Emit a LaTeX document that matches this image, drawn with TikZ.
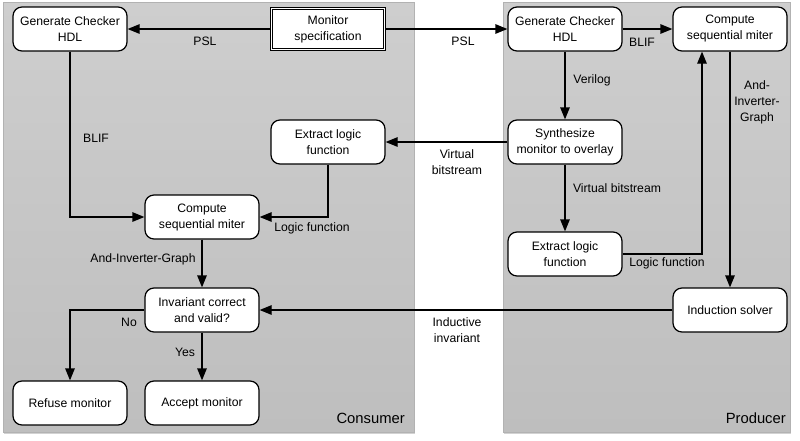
\documentclass[tikz,border=0pt]{standalone}
\usepackage{fontspec}
\setmainfont{Liberation Sans}
\usetikzlibrary{arrows.meta,shadows}
\definecolor{paneltop}{RGB}{206,206,206}
\definecolor{panelbot}{RGB}{190,190,190}
\begin{document}
\begin{tikzpicture}[x=1pt,y=-1pt,
  panel/.style={top color=paneltop, bottom color=panelbot, draw=gray!60, line width=0.3pt,
    drop shadow={shadow xshift=0.5pt, shadow yshift=-2pt, opacity=0.35}},
  box/.style={draw, line width=1.25pt, rounded corners=9pt, fill=white, minimum width=114pt,
    minimum height=44pt, align=center, inner sep=2pt, font=\fontsize{12.2}{16}\selectfont},
  specbox/.style={draw, double, double distance=1.6pt, line width=0.7pt, fill=white, minimum width=113pt,
    minimum height=41pt, align=center, inner sep=2pt, font=\fontsize{12.2}{16}\selectfont},
  lbl/.style={align=center, inner sep=1pt, font=\fontsize{12.2}{16}\selectfont},
  plbl/.style={inner sep=1pt, font=\fontsize{14.8}{17}\selectfont},
  arr/.style={line width=1.25pt, -{Triangle[length=12pt,width=9.5pt]}}]
\useasboundingbox (0,0) rectangle (800,440);
\fill[white] (0,0) rectangle (800,440);
% panels
\path[panel] (3,2) rectangle (414,432);
\path[panel] (503,2) rectangle (790,432);
\node[plbl, anchor=east] (consumer) at (406,418) {Consumer};
\node[plbl, anchor=east] (producer) at (787,418) {Producer};
% nodes
\node[box] (genL) at (70,29) {Generate Checker\\HDL};
\node[specbox] (spec) at (328,29) {Monitor\\specification};
\node[box] (genR) at (565,29) {Generate Checker\\HDL};
\node[box] (cmR) at (730,29) {Compute\\sequential miter};
\node[box] (exL) at (328,142) {Extract logic\\function};
\node[box] (syn) at (565,142) {Synthesize\\monitor to overlay};
\node[box] (cmL) at (202,217) {Compute\\sequential miter};
\node[box] (exR) at (565,254) {Extract logic\\function};
\node[box] (inv) at (202,310) {Invariant correct\\and valid?};
\node[box] (ind) at (730,310) {Induction solver};
\node[box] (ref) at (70,403) {Refuse monitor};
\node[box] (acc) at (202,403) {Accept monitor};
% edges
\draw[arr] (spec) -- (genL);
\draw[arr] (spec) -- (genR);
\draw[arr] (genL) |- (cmL);
\draw[arr] (exL) |- (cmL);
\draw[arr] (cmL) -- (inv);
\draw[arr] (inv) -| (ref);
\draw[arr] (inv) -- (acc);
\draw[arr] (ind) -- (inv);
\draw[arr] (genR) -- (cmR);
\draw[arr] (genR) -- (syn);
\draw[arr] (syn) -- (exL);
\draw[arr] (syn) -- (exR);
\draw[arr] (exR.east) -| ([xshift=-28pt]cmR.south);
\draw[arr] (cmR.south) -- (ind);
% labels
\node[lbl] (l1) at (205,41) {PSL};
\node[lbl] (l2) at (463,41) {PSL};
\node[lbl] (l3) at (96,138) {BLIF};
\node[lbl] (l4) at (312,228) {Logic function};
\node[lbl] (l5) at (143,259) {And-Inverter-Graph};
\node[lbl] (l6) at (129,322) {No};
\node[lbl] (l7) at (185,352) {Yes};
\node[lbl] (l8) at (457,330) {Inductive\\invariant};
\node[lbl] (l9) at (457,162) {Virtual\\bitstream};
\node[lbl] (l10) at (617,188) {Virtual bitstream};
\node[lbl] (l11) at (667,263) {Logic function};
\node[lbl] (l12) at (642,42) {BLIF};
\node[lbl] (l13) at (592,80) {Verilog};
\node[lbl] (l14) at (757,102) {And-\\Inverter-\\Graph};
\end{tikzpicture}
\end{document}
